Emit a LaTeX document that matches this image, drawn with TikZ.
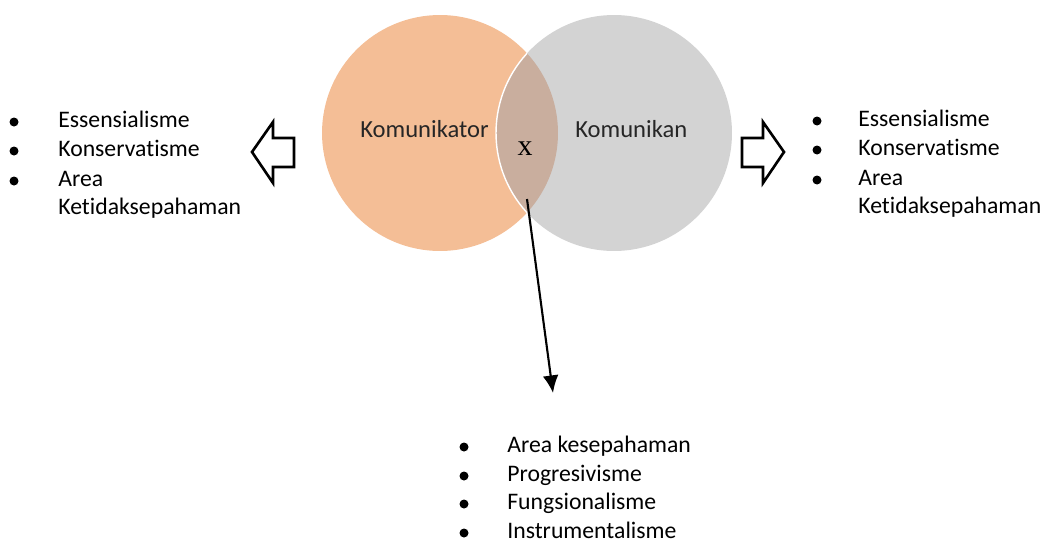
\documentclass[tikz,border=0pt]{standalone}
\usepackage{fontspec}
\setmainfont{Carlito}[Ligatures=NoCommon]
\newfontfamily\markfont{Liberation Serif}
\usetikzlibrary{arrows.meta}
\tikzset{
  >={Latex[length=10pt,width=9pt]},
  x=0.02cm, y=-0.02cm,
}
\definecolor{komunikatorfill}{HTML}{F4BE96}
\definecolor{komunikanfill}{HTML}{D3D3D3}
\definecolor{irisanfill}{HTML}{C9AE9E}
\tikzstyle{every node}=[font=\fontsize{13.5}{16}\selectfont,inner sep=0pt]
\tikzstyle{item}=[anchor=base west]
\tikzstyle{label}=[anchor=base west,font=\fontsize{14}{17}\selectfont,text=black!85]
\tikzstyle{blockarrow}=[draw,line width=1.5pt,fill=white,line join=miter]
\tikzstyle{bullet}=[fill=black]

\begin{document}
\begin{tikzpicture}
    \useasboundingbox (0,0) rectangle (1047,544);
    % lingkaran
    \fill[komunikatorfill] (440,133) circle [radius=2.36cm];
    \fill[komunikanfill] (614,133) circle [radius=2.36cm];
    \begin{scope}
      \clip (440,133) circle [radius=2.36cm];
      \fill[irisanfill] (614,133) circle [radius=2.36cm];
      \draw[white,line width=0.8pt] (614,133) circle [radius=2.36cm];
    \end{scope}
    \node[label] (komunikator) at (360,137) {Komunikator};
    \node[label] (komunikan) at (575,137) {Komunikan};
    \node[font=\markfont\fontsize{17}{19}\selectfont] (xmark) at (525,149) {x};
    % panah
    \coordinate (xstart) at (527,199);
    \coordinate (listtop) at (553,393);
    \draw[->,line width=1.2pt] (xstart) -- (listtop);
    \draw[blockarrow] (252,152) -- (273,122) -- (273,138) -- (294,138)
      -- (294,167) -- (273,167) -- (273,183) -- cycle;
    \draw[blockarrow] (784,152) -- (763,122) -- (763,138) -- (742,138)
      -- (742,167) -- (763,167) -- (763,183) -- cycle;
    % daftar kiri
    \foreach \y/\t [count=\i] in {127/Essensialisme,156/Konservatisme,186/Area}{
      \fill[bullet] (14,\y-5) circle (4.5);
      \node[item] (kiri\i) at (58,\y) {\t};
    }
    \node[item] (kiri4) at (58,214) {Ketidaksepahaman};
    % daftar kanan
    \foreach \y/\t [count=\i] in {126/Essensialisme,155/Konservatisme,185/Area}{
      \fill[bullet] (817,\y-5) circle (4.5);
      \node[item] (kanan\i) at (858,\y) {\t};
    }
    \node[item] (kanan4) at (858,213) {Ketidaksepahaman};
    % daftar bawah
    \foreach \y/\t [count=\i] in {452/Area kesepahaman,481/Progresivisme,
      509/Fungsionalisme,538/Instrumentalisme}{
      \fill[bullet] (464,\y-5) circle (4.5);
      \node[item] (bawah\i) at (507,\y) {\t};
    }
\end{tikzpicture}
\end{document}
